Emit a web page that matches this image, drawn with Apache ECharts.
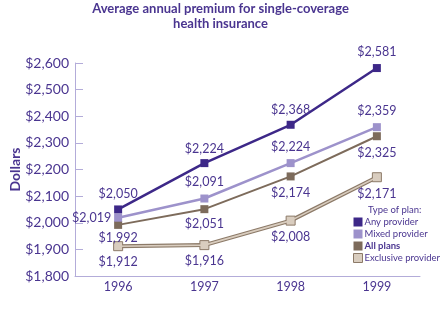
<!DOCTYPE html>
<html>
<head>
<meta charset="utf-8">
<script src="https://cdn.jsdelivr.net/npm/echarts@6/dist/echarts.min.js"></script>
<style>
  html, body { margin: 0; padding: 0; background: #fff; }
  #chart { width: 441px; height: 329px; }
</style>
</head>
<body>
<div id="chart"></div>
<script>
// Survey years and premium values (dollars)
const years = ['1996', '1997', '1998', '1999'];
const anyProvider = [2050, 2224, 2368, 2581];
const mixedProvider = [2019, 2091, 2224, 2359];
const allPlans = [1992, 2051, 2174, 2325];
const exclusiveProvider = [1912, 1916, 2008, 2171];

const FONT = 'Lato, "DejaVu Sans", sans-serif';
const PURPLE = '#4a3590';
const C_ANY = '#3d2888';
const C_MIXED = '#9d92cb';
const C_ALL = '#7d6b5b';
const C_EXCL_FILL = '#d9cdbf';
const C_EXCL_EDGE = '#8c7a68';
const AXIS = '#b3acd9';

const money = v => '$' + v.toLocaleString('en-US');

// label placement for each point of each line
function withLabels(values, positions, offsets) {
  return values.map((v, i) => ({
    value: v,
    label: {
      position: positions[i],
      distance: offsets ? offsets[i] : 5
    }
  }));
}

const labelBase = {
  show: true,
  formatter: p => money(p.value),
  color: PURPLE,
  fontFamily: FONT,
  fontSize: 12.5
};

const chart = echarts.init(document.getElementById('chart'), null, { renderer: 'canvas' });

chart.setOption({
  animation: false,
  backgroundColor: '#ffffff',
  title: {
    text: 'Average annual premium for single-coverage\nhealth insurance',
    left: 'center',
    top: -4,
    textStyle: {
      color: PURPLE,
      fontFamily: FONT,
      fontWeight: 'bold',
      fontSize: 13,
      lineHeight: 15
    }
  },
  graphic: [{
    type: 'text',
    left: 368,
    top: 205,
    style: {
      text: 'Type of plan:',
      fill: PURPLE,
      font: '9.5px ' + FONT
    }
  }],
  legend: {
    orient: 'vertical',
    left: 353,
    top: 216,
    padding: 0,
    itemWidth: 9,
    itemHeight: 9,
    itemGap: 0,
    icon: 'rect',
    textStyle: {
      color: PURPLE,
      fontFamily: FONT,
      fontSize: 9.5,
      lineHeight: 12,
      padding: [0, 0, 0, -3],
      rich: {
        b: { fontWeight: 'bold', color: PURPLE, fontFamily: FONT, fontSize: 9.5, lineHeight: 12 }
      }
    },
    formatter: name => name === 'All plans' ? '{b|' + name + '}' : name,
    data: [
      { name: 'Any provider', itemStyle: { color: C_ANY } },
      { name: 'Mixed provider', itemStyle: { color: C_MIXED } },
      { name: 'All plans', itemStyle: { color: C_ALL } },
      { name: 'Exclusive provider', itemStyle: { color: C_EXCL_FILL, borderColor: C_EXCL_EDGE, borderWidth: 1 } }
    ]
  },
  grid: { left: 61, right: 21, top: 63, bottom: 53 },
  xAxis: {
    type: 'category',
    data: years,
    boundaryGap: true,
    axisLine: { lineStyle: { color: AXIS, width: 1 } },
    axisTick: { inside: true, length: 6, alignWithLabel: true, lineStyle: { color: AXIS } },
    axisLabel: { color: PURPLE, fontFamily: FONT, fontSize: 12.5, margin: 4 }
  },
  yAxis: {
    type: 'value',
    min: 1800,
    max: 2600,
    interval: 100,
    name: 'Dollars',
    nameLocation: 'middle',
    nameRotate: 90,
    nameGap: 53,
    nameMoveOverlap: false,
    nameTextStyle: { color: PURPLE, fontFamily: FONT, fontWeight: 'bold', fontSize: 14 },
    axisLine: { show: true, lineStyle: { color: AXIS, width: 1 } },
    axisTick: { show: true, inside: true, length: 8, lineStyle: { color: AXIS } },
    splitLine: { show: false },
    axisLabel: {
      color: PURPLE, fontFamily: FONT, fontSize: 14, margin: 6,
      formatter: v => money(v)
    }
  },
  series: [
    {
      name: 'Exclusive provider',
      type: 'line',
      z: 2,
      symbol: 'rect',
      symbolSize: 9,
      itemStyle: { color: C_EXCL_FILL, borderColor: C_EXCL_EDGE, borderWidth: 1 },
      lineStyle: { color: C_EXCL_EDGE, width: 4 },
      label: labelBase,
      data: withLabels(exclusiveProvider, ['bottom', 'bottom', 'bottom', 'bottom'], [4, 4, 5, 5])
    },
    {
      // lighter core of the exclusive-provider line
      name: 'Exclusive provider core',
      type: 'line',
      z: 3,
      symbol: 'none',
      silent: true,
      lineStyle: { color: C_EXCL_FILL, width: 1.6 },
      data: exclusiveProvider
    },
    {
      name: 'All plans',
      type: 'line',
      z: 4,
      symbol: 'rect',
      symbolSize: 8,
      itemStyle: { color: C_ALL },
      lineStyle: { color: C_ALL, width: 2 },
      label: labelBase,
      data: withLabels(allPlans, ['bottom', 'bottom', 'bottom', 'bottom'], [3, 4, 6, 6])
    },
    {
      name: 'Mixed provider',
      type: 'line',
      z: 5,
      symbol: 'rect',
      symbolSize: 8,
      itemStyle: { color: C_MIXED },
      lineStyle: { color: C_MIXED, width: 2.5 },
      label: labelBase,
      data: withLabels(mixedProvider, ['left', 'top', 'top', 'top'], [3, 6, 6, 6])
    },
    {
      name: 'Any provider',
      type: 'line',
      z: 6,
      symbol: 'rect',
      symbolSize: 8,
      itemStyle: { color: C_ANY },
      lineStyle: { color: C_ANY, width: 2.5 },
      label: labelBase,
      data: withLabels(anyProvider, ['top', 'top', 'top', 'top'], [5, 4, 4, 6])
    }
  ]
});
</script>
</body>
</html>
